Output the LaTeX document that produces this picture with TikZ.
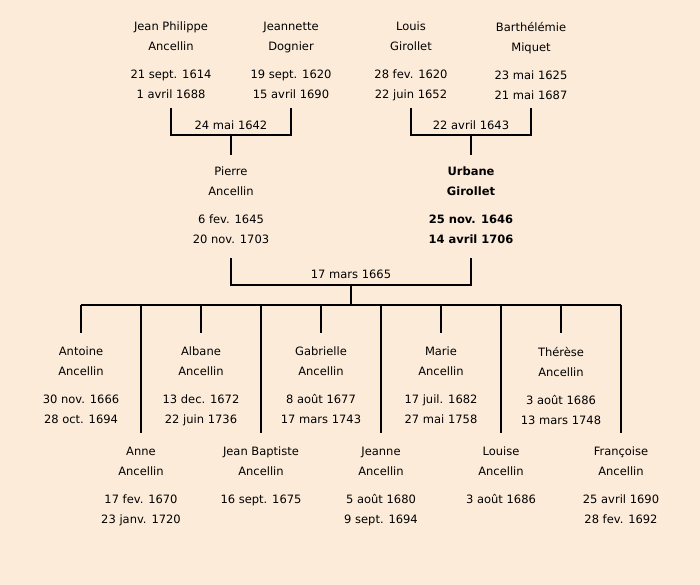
\documentclass[tikz,border=0pt]{standalone}
\usepackage{fontspec}
\setmainfont{DejaVu Sans}
\usepackage{tikz}
\usetikzlibrary{
    positioning,  % Relative positioning
    calc          % Coordinate calculations
}
\definecolor{parchment}{RGB}{252,235,217}

\begin{document}
\begin{tikzpicture}[x=1pt, y=-1pt,
    person/.style={anchor=north, inner sep=0pt, align=center,
        font=\fontsize{11.5}{20}\selectfont},
    wedding/.style={inner sep=0pt, font=\fontsize{11.5}{20}\selectfont},
    link/.style={line width=2.6pt}]
    \fill[parchment] (0,0) rectangle (700,585);

    % Grandparents
    \node[person] (jp) at (171,22) {Jean Philippe\\Ancellin\\[8pt]21 sept. 1614\\1 avril 1688};
    \node[person] (jn) at (291,22) {Jeannette\\Dognier\\[8pt]19 sept. 1620\\15 avril 1690};
    \node[person] (lg) at (411,22) {Louis\\Girollet\\[8pt]28 fev. 1620\\22 juin 1652};
    \node[person] (bm) at (531,22) {Barthélémie\\Miquet\\[8pt]23 mai 1625\\21 mai 1687};

    % Parents
    \node[person] (pa) at (231,167) {Pierre\\Ancellin\\[8pt]6 fev. 1645\\20 nov. 1703};
    \node[person, font=\fontsize{11.5}{20}\selectfont\bfseries] (ug) at (471,167)
        {Urbane\\Girollet\\[8pt]25 nov. 1646\\14 avril 1706};

    % Marriage of the grandparents
    \coordinate (m1) at ($(jp.north)!0.5!(jn.north)+(0,113)$);
    \coordinate (m2) at ($(lg.north)!0.5!(bm.north)+(0,113)$);
    \draw[link] ($(jp.north)+(0,86)$) -- ++(0,27) -| ($(jn.north)+(0,86)$);
    \draw[link] ($(lg.north)+(0,86)$) -- ++(0,27) -| ($(bm.north)+(0,86)$);
    \node[wedding] (w1) at ($(m1)+(0,-10)$) {24 mai 1642};
    \node[wedding] (w2) at ($(m2)+(0,-10)$) {22 avril 1643};
    \draw[link] (m1) -- ($(pa.north)+(0,-12)$);
    \draw[link] (m2) -- ($(ug.north)+(0,-12)$);

    % Marriage of the parents
    \coordinate (m3) at ($(pa.north)!0.5!(ug.north)+(0,118)$);
    \draw[link] ($(pa.north)+(0,91)$) -- ++(0,27) -| ($(ug.north)+(0,91)$);
    \node[wedding] (w3) at ($(m3)+(0,-11)$) {17 mars 1665};

    % Children
    \foreach \x/\txt [count=\i] in {
        81/{Antoine\\Ancellin\\[8pt]30 nov. 1666\\28 oct. 1694},
        141/{Anne\\Ancellin\\[8pt]17 fev. 1670\\23 janv. 1720},
        201/{Albane\\Ancellin\\[8pt]13 dec. 1672\\22 juin 1736},
        261/{Jean Baptiste\\Ancellin\\[8pt]16 sept. 1675},
        321/{Gabrielle\\Ancellin\\[8pt]8 août 1677\\17 mars 1743},
        381/{Jeanne\\Ancellin\\[8pt]5 août 1680\\9 sept. 1694},
        441/{Marie\\Ancellin\\[8pt]17 juil. 1682\\27 mai 1758},
        501/{Louise\\Ancellin\\[8pt]3 août 1686},
        561/{Thérèse\\Ancellin\\[8pt]3 août 1686\\13 mars 1748},
        621/{Françoise\\Ancellin\\[8pt]25 avril 1690\\28 fev. 1692}} {
        \pgfmathsetmacro\ytop{isodd(\i) ? 347 : 447}
        \node[person] (c\i) at (\x,\ytop) {\txt};
    }
    \draw[link] (m3) -- ++(0,20) coordinate (bar);
    \draw[link] (bar -| c1) -- (bar -| c10);
    \foreach \i in {1,...,10}
        \draw[link] (bar -| c\i) -- ($(c\i.north)+(0,-14)$);
\end{tikzpicture}
\end{document}
